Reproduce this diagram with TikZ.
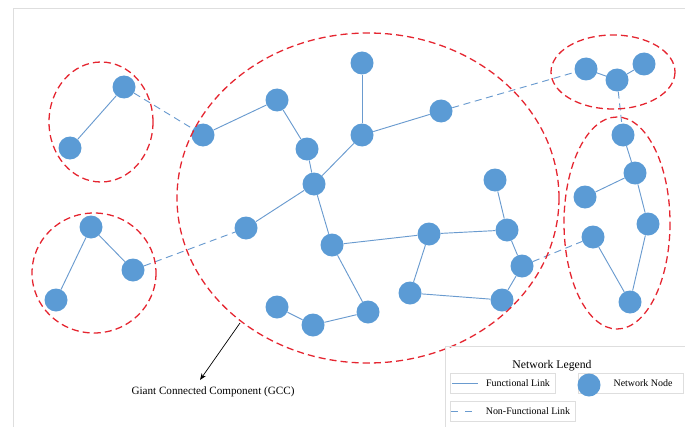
\documentclass[tikz,border=0pt]{standalone}
\usepackage{fontspec}
\setmainfont{Liberation Serif}
\usetikzlibrary{arrows.meta,positioning}
\definecolor{nodeblue}{HTML}{5B9BD5}
\definecolor{linkblue}{HTML}{6A9BCF}
\definecolor{ringred}{HTML}{E52530}
\definecolor{framegray}{HTML}{DEDEDE}

\begin{document}
\begin{tikzpicture}
[x=0.03cm,y=-0.03cm,>=Stealth,font=\fontsize{8.5}{10}\selectfont]
\tikzstyle{nd}=[circle,fill=nodeblue,minimum size=0.69cm,inner sep=0pt]
\tikzstyle{fl}=[draw=linkblue,line width=0.8pt]
\tikzstyle{nfl}=[draw=linkblue,line width=0.8pt,dash pattern=on 6pt off 4pt]
\tikzstyle{ring}=[draw=ringred,line width=1.1pt,dash pattern=on 6pt off 3.5pt]
\tikzstyle{lgbox}=[draw=framegray,line width=0.7pt,minimum height=0.6cm,inner sep=0pt]

\useasboundingbox (0,0) rectangle (685,426);
\draw[framegray,line width=0.7pt] (13,440) -- (13,8) -- (700,8);

% left top cluster
\node[nd] (lt_1) at (124,87) {};
\node[nd] (lt_2) at (70,148) {};
% left bottom cluster
\node[nd] (lb_1) at (91,227) {};
\node[nd] (lb_2) at (133,270) {};
\node[nd] (lb_3) at (56,300) {};
% giant component
\node[nd] (gc_1) at (203,135) {};
\node[nd] (gc_2) at (277,100) {};
\node[nd] (gc_3) at (307,149) {};
\node[nd] (gc_4) at (314,184) {};
\node[nd] (gc_5) at (362,63) {};
\node[nd] (gc_6) at (362,135) {};
\node[nd] (gc_7) at (441,111) {};
\node[nd] (gc_8) at (495,180) {};
\node[nd] (gc_9) at (246,228) {};
\node[nd] (gc_10) at (332,245) {};
\node[nd] (gc_11) at (277,307) {};
\node[nd] (gc_12) at (313,325) {};
\node[nd] (gc_13) at (368,312) {};
\node[nd] (gc_14) at (429,234) {};
\node[nd] (gc_15) at (507,230) {};
\node[nd] (gc_16) at (522,266) {};
\node[nd] (gc_17) at (410,293) {};
\node[nd] (gc_18) at (502,300) {};
% right top cluster
\node[nd] (rt_1) at (586,69) {};
\node[nd] (rt_2) at (617,80) {};
\node[nd] (rt_3) at (644,64) {};
% right cluster
\node[nd] (rr_1) at (623,135) {};
\node[nd] (rr_2) at (635,173) {};
\node[nd] (rr_3) at (585,197) {};
\node[nd] (rr_4) at (648,224) {};
\node[nd] (rr_5) at (593,237) {};
\node[nd] (rr_6) at (630,302) {};

\path[fl]
	(lt_1) edge (lt_2)
	(lb_1) edge (lb_2)
	(lb_1) edge (lb_3)
	(gc_1) edge (gc_2)
	(gc_2) edge (gc_3)
	(gc_3) edge (gc_4)
	(gc_4) edge (gc_6)
	(gc_6) edge (gc_5)
	(gc_6) edge (gc_7)
	(gc_4) edge (gc_9)
	(gc_4) edge (gc_10)
	(gc_10) edge (gc_13)
	(gc_10) edge (gc_14)
	(gc_14) edge (gc_15)
	(gc_15) edge (gc_8)
	(gc_15) edge (gc_16)
	(gc_16) edge (gc_18)
	(gc_14) edge (gc_17)
	(gc_17) edge (gc_18)
	(gc_11) edge (gc_12)
	(gc_12) edge (gc_13)
	(rt_1) edge (rt_2)
	(rt_2) edge (rt_3)
	(rr_1) edge (rr_2)
	(rr_2) edge (rr_3)
	(rr_2) edge (rr_4)
	(rr_4) edge (rr_6)
	(rr_5) edge (rr_6)
	;
\path[nfl]
	(lt_1) edge (gc_1)
	(lb_2) edge (gc_9)
	(gc_7) edge (rt_1)
	(rt_2) edge (rr_1)
	(gc_16) edge (rr_5)
	;

% clusters
\draw[ring] (101,122) ellipse (52 and 60);
\draw[ring] (94,273) ellipse (62 and 60);
\draw[ring] (368,198) ellipse (191 and 165);
\draw[ring] (613,72) ellipse (62 and 37);
\draw[ring] (617,223) ellipse (53 and 106);

% label of the giant component
\coordinate (gcc_tail) at (240,323);
\coordinate (gcc_tip) at (200,380);
\draw[->,line width=0.6pt] (gcc_tail) -- (gcc_tip);
\node[font=\fontsize{9.5}{11}\selectfont] (gcc_label) at (213,392) {Giant Connected Component (GCC)};

% legend
\draw[framegray,line width=0.7pt] (445,440) -- (445,346) -- (700,346);
\node[font=\fontsize{10}{12}\selectfont] (lg_title) at (552,366) {Network Legend};
\node[lgbox,minimum width=3.15cm] (lg_fl) at (502.5,383) {};
\node (lg_fl_text) at (518,383) {Functional Link};
\coordinate (fl_a) at (452,383);
\coordinate (fl_b) at (478,383);
\draw[fl] (fl_a) -- (fl_b);
\node[lgbox,minimum width=3.15cm] (lg_nd) at (630.5,383) {};
\node[nd] (lg_nd_mark) at (589,385) {};
\node (lg_nd_text) at (643,383) {Network Node};
\node[lgbox,minimum width=3.75cm] (lg_nfl) at (512.5,411.5) {};
\node (lg_nfl_text) at (528,411) {Non-Functional Link};
\coordinate (nfl_a) at (451,411);
\coordinate (nfl_b) at (479,411);
\draw[fl,dash pattern=on 6pt off 6pt] (nfl_a) -- (nfl_b);
\end{tikzpicture}
\end{document}
